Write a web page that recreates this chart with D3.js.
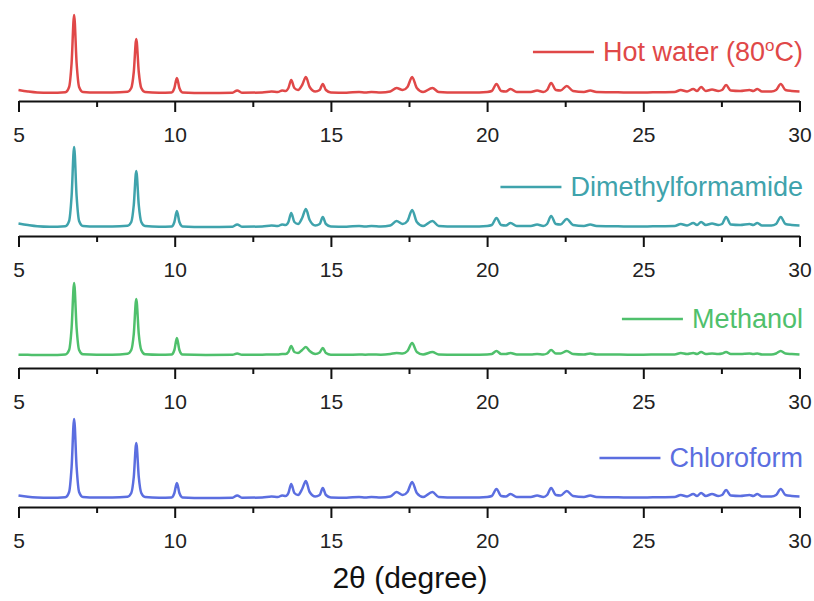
<!DOCTYPE html>
<html>
  <head>
    <script src="https://d3js.org/d3.v7.min.js"></script>
    <style>
      body, html {
        margin: 0;
        background: #fff;
        font-family: 'Liberation Sans', Arial, sans-serif;
      }
      .axis path, .axis line {
        stroke: #111;
        stroke-width: 2px;
      }
      .axis text {
        font-size: 21px;
        fill: #222;
        font-family: 'Liberation Sans', Arial, sans-serif;
      }
      .pattern {
        fill: none;
        stroke-width: 2.5px;
        stroke-linejoin: round;
      }
      .legend text {
        font-size: 27px;
      }
    </style>
  </head>
  <body>
    <div id="chart"></div>
    <script>
      // solvents, top to bottom
      var solvents = ["Hot water (80oC)", "Dimethylformamide", "Methanol", "Chloroform"];
      var colors = ["#e04848", "#3fa3ac", "#4fc06c", "#5b6ee0"];
      // baseline of each pattern above its own axis
      var offsets = [8, 9, 13, 9];

      var xTicks = [5, 10, 15, 20, 25, 30];
      var xMinor = [7.5, 12.5, 17.5, 22.5, 27.5];

      // 2theta sample points (degrees)
      var twoTheta = [
        5.0, 5.3, 5.6, 6.0, 6.5, 6.62, 6.70, 6.78, 6.86, 6.94, 7.06,
        7.5, 8.0, 8.49, 8.61, 8.69, 8.77, 8.85, 8.93, 9.05,
        9.5, 9.90, 9.99, 10.07, 10.15, 10.25, 11.0, 11.85, 12.0, 12.15, 12.8,
        13.1, 13.3, 13.44, 13.55, 13.64, 13.73, 13.83, 13.95, 14.08, 14.2, 14.32, 14.5, 14.64, 14.74, 14.84,
        15.0, 15.5, 15.9, 16.1, 16.3, 16.6, 16.9, 17.1, 17.3, 17.45, 17.6, 17.75, 17.95, 18.25, 18.45,
        19.0, 19.5, 20.0, 20.15, 20.3, 20.45, 20.6, 20.75, 20.95, 21.4, 21.6, 21.8, 21.92, 22.05, 22.2, 22.35, 22.55, 22.75, 23.1, 23.3, 23.5,
        24.0, 24.5, 25.0, 25.5, 26.0, 26.2, 26.4, 26.6, 26.72, 26.85, 27.0, 27.2, 27.4, 27.52, 27.65, 27.8, 28.1, 28.4, 28.52, 28.65, 28.8, 29.1, 29.25, 29.4, 29.55, 29.75, 30.0
      ];

      // intensities (a.u.) at each twoTheta point
      var hotWater = [
        3, 1.5, 0.5, 0.2, 0.8, 6, 30, 78, 30, 6, 1,
        0.5, 0.5, 1.2, 5, 21, 54, 21, 5, 1,
        0.3, 0.6, 5, 15, 5, 0.6, 0, 0.3, 2.5, 0.3, 0.5,
        1.5, 1, 2.5, 2, 5, 13, 5, 3, 8, 16, 6, 1.5, 3, 9, 3,
        0.5, 0.3, 1, 0.5, 1, 0.5, 1.5, 5, 3, 6, 16, 5, 1, 5, 1,
        0.5, 0.5, 1, 2, 9, 2, 1.5, 4, 1, 1, 2.5, 1, 3, 10, 3, 2.5, 7, 2, 1, 2.5, 1,
        0.8, 0.5, 0.5, 0.8, 1, 3, 1.5, 4, 2, 6, 2, 3.5, 2, 3, 8, 2.5, 2, 3, 2, 4, 1.5, 1.5, 3, 9, 3, 2, 1.5
      ];
      var dmf = [
        3.5, 2, 0.8, 0.3, 0.8, 6, 31, 80, 31, 6, 1,
        0.5, 0.5, 1.2, 5, 22, 56, 22, 5, 1,
        0.3, 0.6, 5, 16, 5, 0.6, 0, 0.3, 2.5, 0.3, 0.5,
        1.5, 1, 2.5, 2, 5, 14, 5, 3, 9, 18, 7, 1.5, 3, 10, 3,
        0.5, 0.3, 1, 0.5, 1, 0.5, 1.5, 6, 3, 6, 17, 5, 1, 6, 1,
        0.5, 0.5, 1, 2, 9, 2, 1.5, 4, 1, 1, 2.5, 1, 3, 11, 3, 2.5, 8, 2, 1, 2.5, 1,
        0.8, 0.5, 0.5, 0.8, 1, 3, 1.5, 4, 2, 5, 2, 3.5, 2, 3, 10, 2.5, 2, 3, 2, 4, 1.5, 1.5, 3, 10, 3, 2, 1.5
      ];
      var methanol = [
        0.3, 0.2, 0, 0, 0.5, 5, 27, 72, 27, 5, 0.7,
        0.3, 0.3, 1.2, 5, 21, 56, 21, 5, 0.7,
        0.2, 0.6, 5, 17, 5, 0.4, 0, 0.2, 1.5, 0.2, 0.3,
        0.5, 0.5, 1, 1, 3, 9, 3, 2, 5, 8, 4, 1, 2.5, 7, 2,
        0.3, 0.2, 0.5, 0.3, 0.5, 0.3, 1, 2, 1.5, 4, 12, 3, 0.5, 3, 0.5,
        0.3, 0.3, 0.5, 1, 4, 1, 1, 2, 0.5, 0.5, 1, 0.5, 1.5, 5, 1.5, 1.5, 4, 1, 0.5, 1.5, 0.5,
        0.5, 0.3, 0.3, 0.5, 0.5, 2, 1, 2, 1, 3, 1, 1.5, 1, 1.5, 3, 1, 1, 1.5, 1, 1.5, 0.5, 0.5, 1.5, 4, 1.5, 1, 0.5
      ];
      var chloroform = [
        2.5, 1.2, 0.5, 0.2, 0.8, 6, 31, 79, 31, 6, 1,
        0.5, 0.5, 1.2, 5, 21, 55, 21, 5, 1,
        0.3, 0.6, 5, 15, 5, 0.6, 0, 0.3, 2.5, 0.3, 0.5,
        1.5, 1, 2.5, 2, 5, 14, 5, 3, 9, 17, 6, 1.5, 3, 10, 3,
        0.5, 0.3, 1, 0.5, 1, 0.5, 1.5, 6, 3, 6, 16, 5, 1, 6, 1,
        0.5, 0.5, 1, 2, 9, 2, 1.5, 4, 1, 1, 2.5, 1, 3, 10, 3, 2.5, 7, 2, 1, 2.5, 1,
        0.8, 0.5, 0.5, 0.8, 1, 3, 1.5, 4, 2, 5, 2, 4, 2, 3, 8, 2.5, 2, 3, 2, 4, 1.5, 1.5, 3, 9, 3, 2, 1.5
      ];
      var series = [hotWater, dmf, methanol, chloroform];

      var width = 814, height = 601;
      var axisY = [101, 236, 368, 507];

      var svg = d3.select("#chart")
        .append("svg")
        .attr("width", width)
        .attr("height", height);

      var x = d3.scaleLinear().domain([5, 30]).range([18.5, 799.5]);

      series.forEach(function(values, i) {
        var y = d3.scaleLinear().domain([0, 100]).range([axisY[i], axisY[i] - 100]);
        var g = svg.append("g");

        var pts = twoTheta.map((t, k) => [t, values[k] + offsets[i]]);
        var line = d3.line()
          .x(d => x(d[0]))
          .y(d => y(d[1]))
          .curve(d3.curveMonotoneX);

        g.append("path")
          .datum(pts)
          .attr("class", "pattern")
          .attr("stroke", colors[i])
          .attr("d", line);

        g.append("g")
          .attr("class", "axis")
          .attr("transform", "translate(0," + axisY[i] + ")")
          .call(d3.axisBottom(x).tickValues(xTicks).tickSize(11).tickSizeOuter(0).tickPadding(15).tickFormat(d3.format("d")));

        g.append("g")
          .attr("class", "axis")
          .attr("transform", "translate(0," + axisY[i] + ")")
          .call(d3.axisBottom(x).tickValues(xMinor).tickSize(6).tickSizeOuter(0).tickFormat(""))
          .select(".domain").remove();

        // legend, right aligned
        var lg = g.append("g").attr("class", "legend");
        var ly = axisY[i] - 49;
        var label = lg.append("text")
          .attr("x", 803)
          .attr("y", ly)
          .attr("dy", "0.35em")
          .attr("text-anchor", "end")
          .attr("fill", colors[i]);
        var name = solvents[i];
        if (name.indexOf("oC") > 0) {
          label.append("tspan").text(name.split("oC")[0]);
          label.append("tspan").attr("dy", -10).style("font-size", "17px").text("o");
          label.append("tspan").attr("dy", 10).text("C" + name.split("oC")[1]);
        } else {
          label.text(name);
        }
        var tw = label.node().getComputedTextLength();
        lg.append("line")
          .attr("x1", 803 - tw - 70)
          .attr("x2", 803 - tw - 9)
          .attr("y1", ly)
          .attr("y2", ly)
          .attr("stroke", colors[i])
          .attr("stroke-width", 2.5);
      });

      svg.append("text")
        .attr("x", 410)
        .attr("y", 588)
        .attr("text-anchor", "middle")
        .style("font-size", "30px")
        .attr("fill", "#111")
        .text("2θ (degree)");
    </script>
  </body>
</html>
